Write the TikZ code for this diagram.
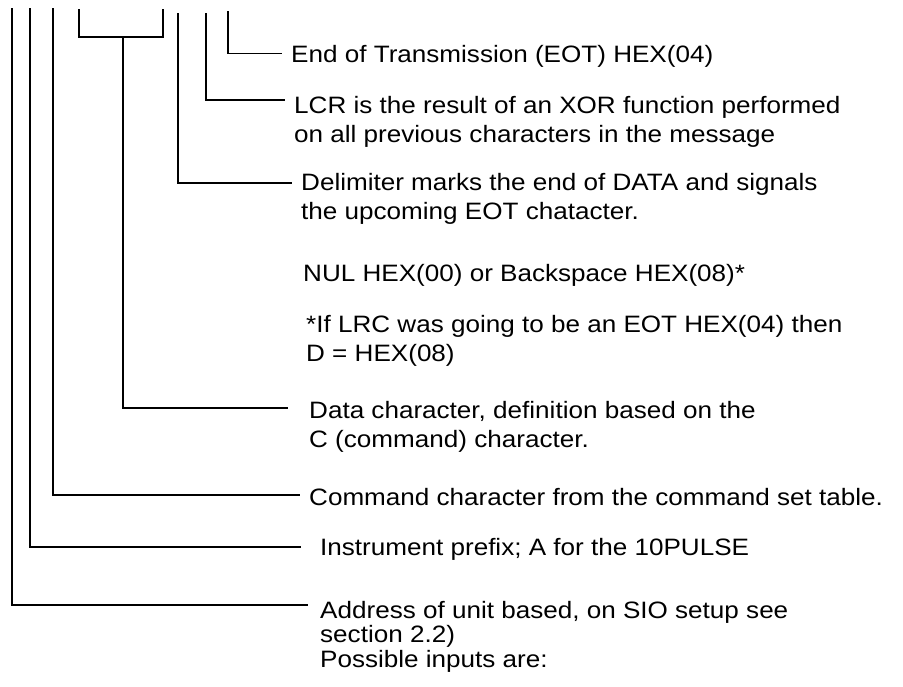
\documentclass[tikz,border=0pt]{standalone}
\usepackage{fontspec}
\setmainfont{Liberation Sans}[FakeStretch=1.1]
\tikzstyle{desc} = [anchor=base west, inner sep=0pt,
    font=\fontsize{23.7}{29.5}\selectfont]
\tikzstyle{lead} = [draw=black, line width=1.6pt]
\newcommand{\desclines}[1]{\begin{tabular}[t]{@{}l@{}}#1\end{tabular}}

\begin{document}
\begin{tikzpicture}[x=1pt,y=-1pt]
\useasboundingbox (0,0) rectangle (903,686);

\node[desc] (eot) at (291,62) {End of Transmission (EOT) HEX(04)};
\node[desc] (lcr) at (294,113) {\desclines{LCR is the result of an XOR function performed\\on all previous characters in the message}};
\node[desc] (delim) at (301,190) {\desclines{Delimiter marks the end of DATA and signals\\the upcoming EOT chatacter.}};
\node[desc] (nul) at (303,281) {NUL HEX(00) or Backspace HEX(08)*};
\node[desc] (note) at (306,332) {\desclines{*If LRC was going to be an EOT HEX(04) then\\D = HEX(08)}};
\node[desc] (data) at (309,418) {\desclines{Data character, definition based on the\\C (command) character.}};
\node[desc] (cmd) at (309,505) {Command character from the command set table.};
\node[desc] (inst) at (320,555) {Instrument prefix; A for the 10PULSE};
\node[desc, font=\fontsize{23.7}{24.5}\selectfont] (addr) at (320,618) {\desclines{Address of unit based, on SIO setup see\\section 2.2)\\Possible inputs are:}};

\coordinate (addrtop) at (12,8);
\coordinate (insttop) at (30,8);
\coordinate (cmdtop) at (53,8);
\coordinate (brl) at (79,9);
\coordinate (brr) at (163,9);
\coordinate (brmid) at (123,37);
\coordinate (delimtop) at (178,13);
\coordinate (lcrtop) at (206,13);
\coordinate (eottop) at (228,11);

\draw[lead] (eottop) |- ([xshift=-9pt,yshift=8.5pt]eot.base west);
\draw[lead] (lcrtop) |- ([xshift=-9pt,yshift=13pt]lcr.base west);
\draw[lead] (delimtop) |- ([xshift=-9pt,yshift=7pt]delim.base west);
\draw[lead] (brl) |- (brmid) -| (brr);
\draw[lead] (brmid) |- ([xshift=-21pt,yshift=10pt]data.base west);
\draw[lead] (cmdtop) |- ([xshift=-9pt,yshift=10pt]cmd.base west);
\draw[lead] (insttop) |- ([xshift=-19pt,yshift=8pt]inst.base west);
\draw[lead] (addrtop) |- ([xshift=-12pt,yshift=13pt]addr.base west);
\end{tikzpicture}
\end{document}
